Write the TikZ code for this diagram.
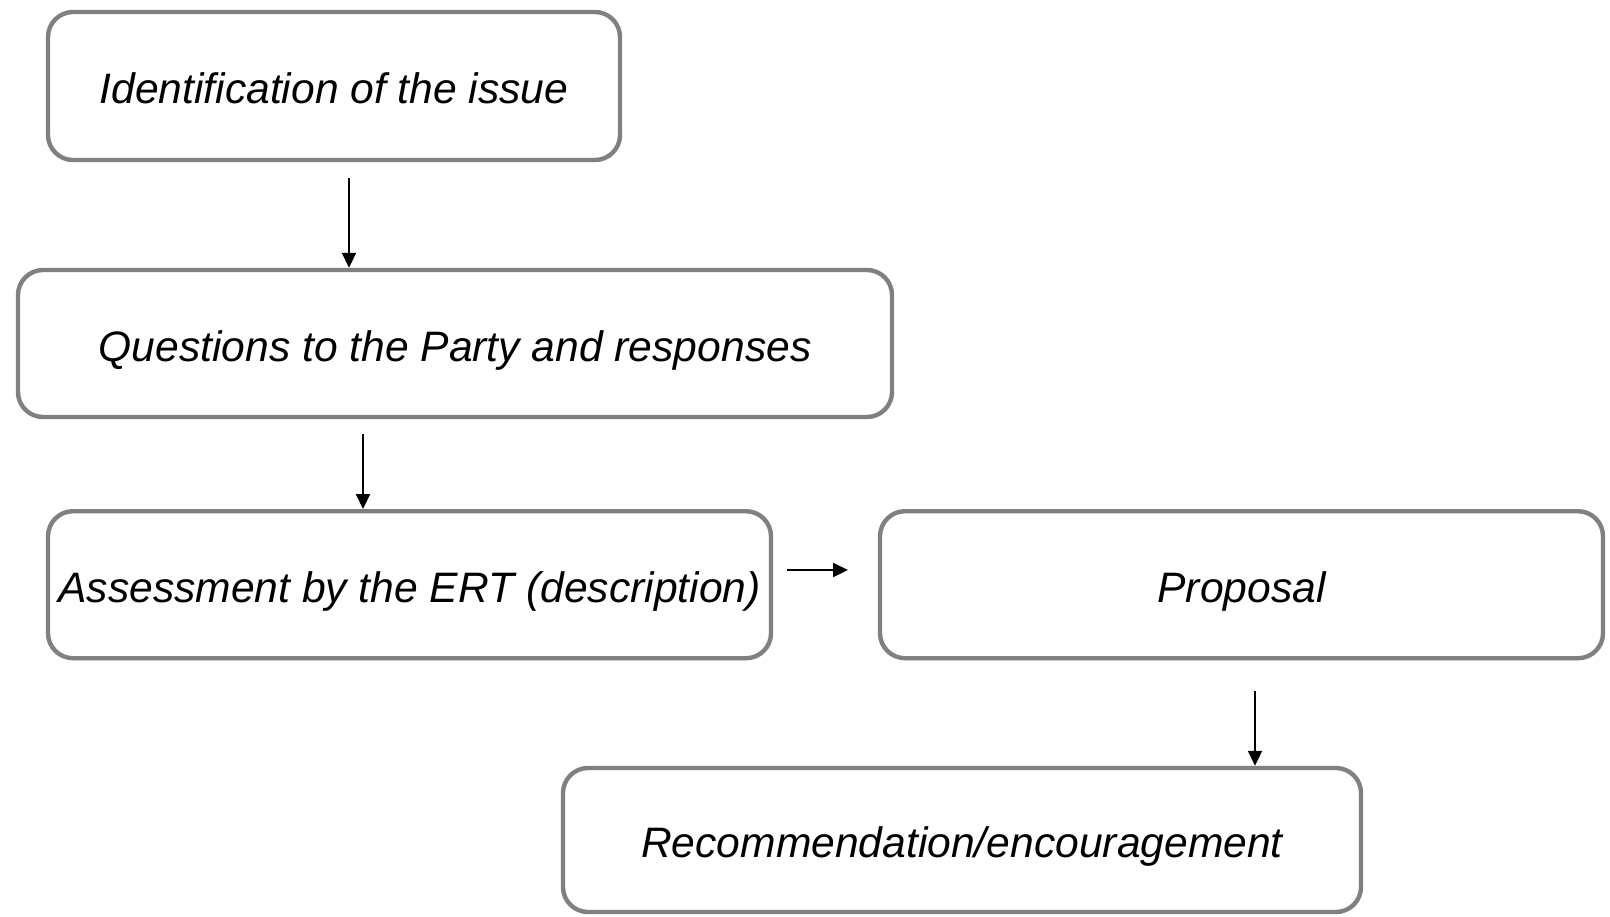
\documentclass[tikz,border=0pt]{standalone}
\usepackage{fontspec}
\setmainfont{Liberation Sans}
\usetikzlibrary{arrows.meta}
\usetikzlibrary{calc}

\definecolor{boxgray}{HTML}{808080}

\begin{document}
\begin{tikzpicture}[x=0.5pt, y=-0.5pt,
    stage/.style={draw=boxgray, line width=2.2pt, rounded corners=12.5pt,
        minimum height=73.5pt, inner sep=0pt, align=center,
        text height=22pt, text depth=4.5pt,
        font=\fontsize{21.3}{26}\selectfont\itshape},
    flow/.style={-{Triangle[length=7.5pt, width=7pt]}, line width=1pt}]
    \useasboundingbox (0, 0) rectangle (1610, 916);

    \node [stage, minimum width=286pt, minimum height=74pt] (ident) at (334, 86) {Identification of the issue};
    \node [stage, minimum width=437pt] (quest) at (455, 343.5) {Questions to the Party and responses};
    \node [stage, minimum width=361.5pt] (assess) at (409.5, 584.7) {Assessment by the ERT (description)};
    \node [stage, minimum width=361.5pt] (prop) at (1241.5, 584.7) {Proposal};
    \node [stage, minimum width=399pt, minimum height=72pt] (recom) at (962, 840) {Recommendation/encouragement};

    \coordinate (A1) at (349, 178);
    \coordinate (A2) at (363, 434);
    \coordinate (A3) at (787, 570);
    \coordinate (A4) at (1255, 691);

    \draw [flow] (A1) -- (A1 |- quest.north);
    \draw [flow] (A2) -- (A2 |- assess.north);
    \draw [flow] (A3) -- ($(A3) + (61, 0)$);
    \draw [flow] (A4) -- (A4 |- recom.north);
\end{tikzpicture}
\end{document}
